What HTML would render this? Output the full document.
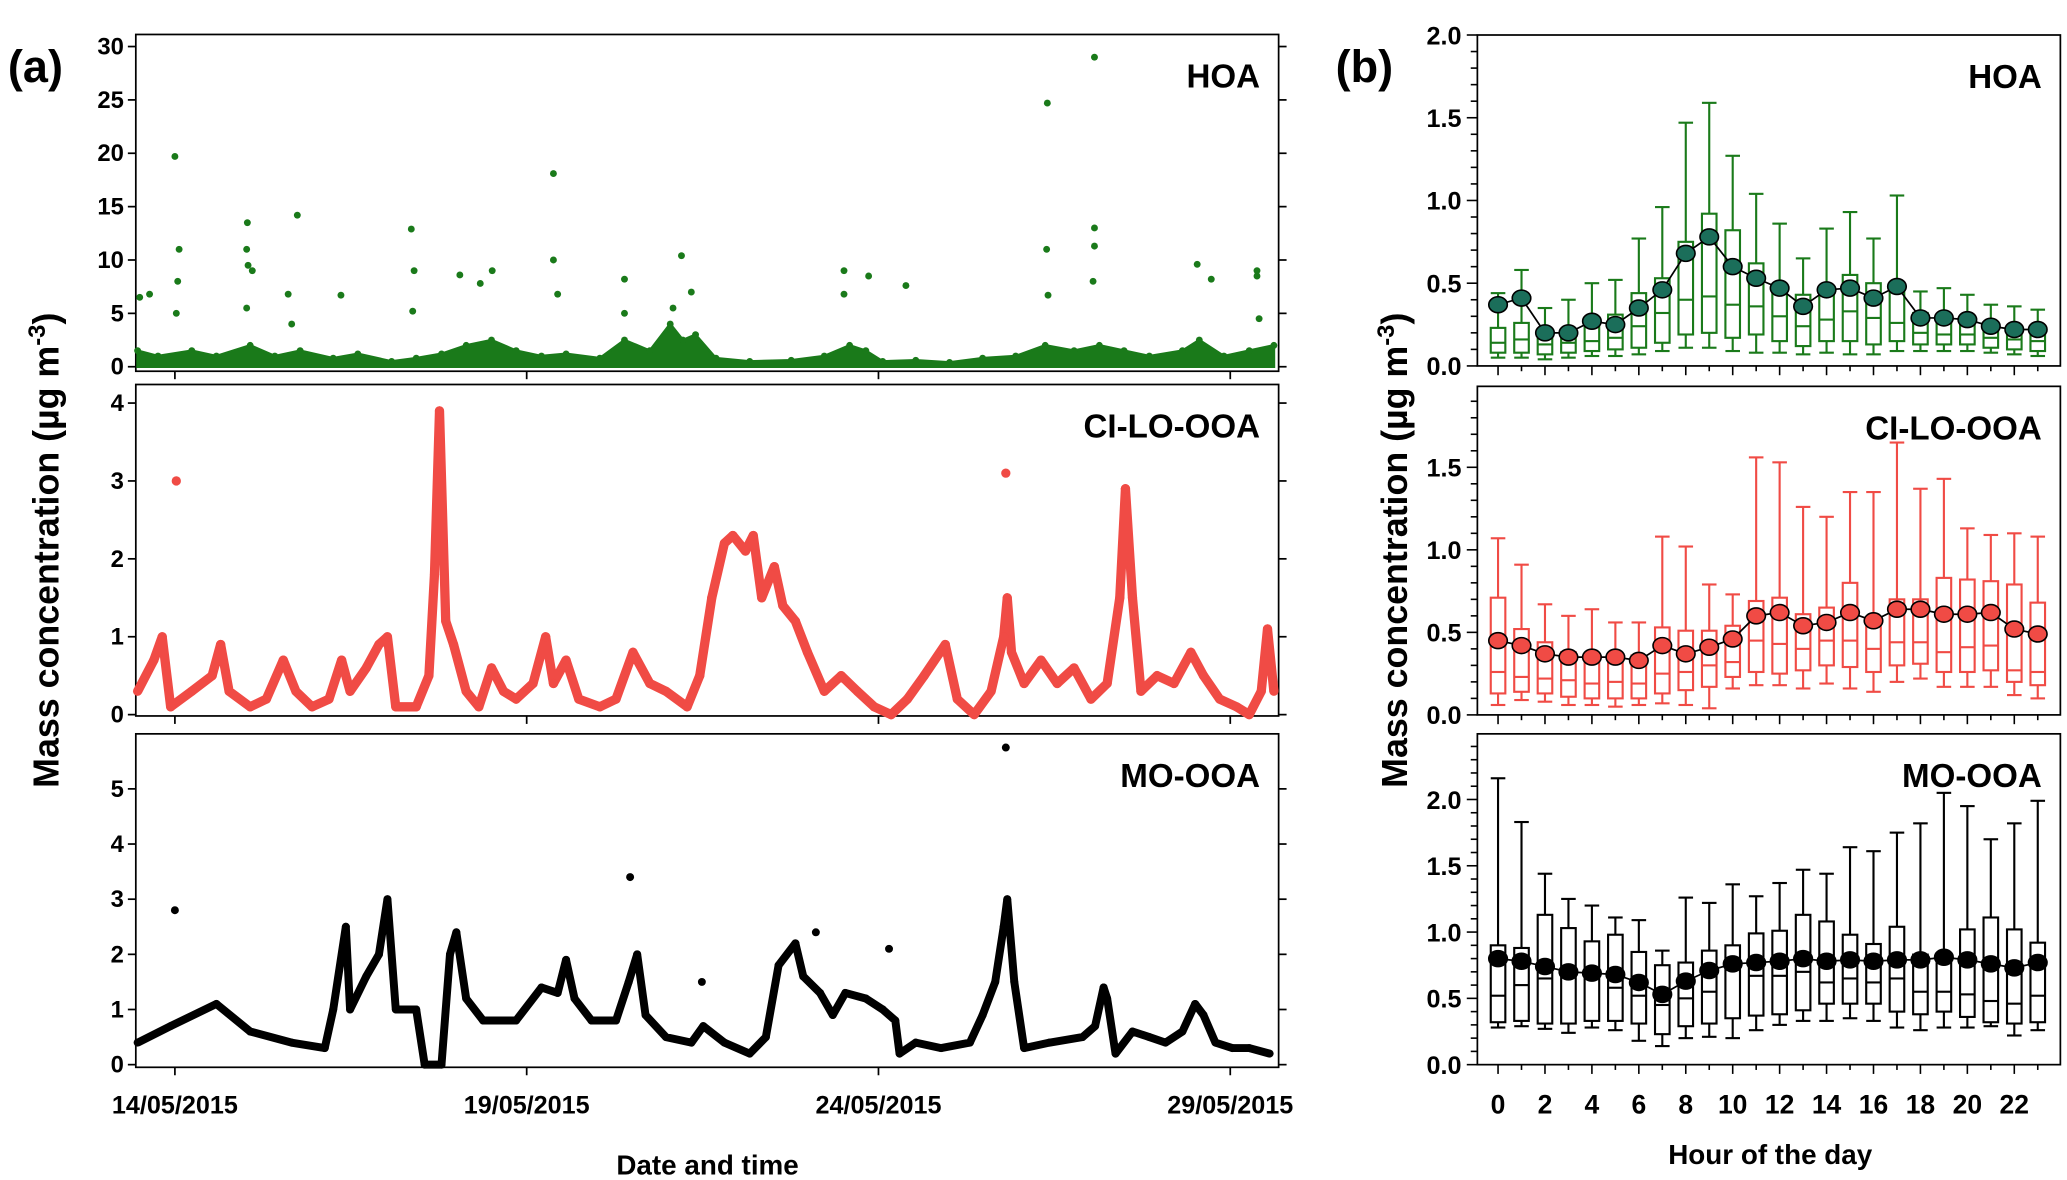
<!DOCTYPE html>
<html><head><meta charset="utf-8"><style>
html,body{margin:0;padding:0;background:#fff;}
svg{display:block;font-family:"Liberation Sans",sans-serif;font-weight:bold;}
</style></head><body>
<svg id="fig" width="2067" height="1180" viewBox="0 0 1560 890" preserveAspectRatio="none" xmlns="http://www.w3.org/2000/svg">
<rect x="0" y="0" width="1560" height="890" fill="#fff"/>
<text x="6" y="62" font-size="34">(a)</text>
<text x="1008" y="62" font-size="34">(b)</text>
<text transform="translate(44,415) rotate(-90)" text-anchor="middle" font-size="27">Mass concentration (µg m<tspan dy="-10" font-size="18">-3</tspan><tspan dy="10">)</tspan></text>
<text transform="translate(1062,415) rotate(-90)" text-anchor="middle" font-size="27">Mass concentration (µg m<tspan dy="-10" font-size="18">-3</tspan><tspan dy="10">)</tspan></text>
<text x="534" y="886" text-anchor="middle" font-size="21">Date and time</text>
<text x="1336" y="878" text-anchor="middle" font-size="21">Hour of the day</text>
<g id="ga"></g><g id="gb"></g>
</svg>
<script>
// ---------- Panel (a) time series data (days since 14/05/2015) ----------
const hoaDays=[-0.53,-0.24,0.24,0.59,1.07,1.42,1.78,2.25,2.60,3.08,3.43,3.79,4.14,4.50,4.85,5.21,5.56,6.04,6.39,6.75,7.04,7.22,7.40,7.69,8.17,8.76,9.23,9.59,9.82,10.06,10.53,11.01,11.48,11.95,12.37,12.78,13.14,13.49,13.85,14.32,14.56,14.91,15.27,15.62];
const hoaVals=[1.5,1.0,1.5,1.0,2.0,1.0,1.5,0.8,1.2,0.5,0.8,1.2,2.0,2.5,1.5,1.0,1.2,0.8,2.5,1.5,4.0,2.5,3.0,0.8,0.5,0.6,1.0,2.0,1.5,0.5,0.6,0.4,0.8,1.0,2.0,1.5,2.0,1.5,1.0,1.5,2.5,1.0,1.5,2.0];
const hoaOutDays=[-0.50,-0.36,0,0.06,0.04,0.02,1.03,1.02,1.04,1.10,1.02,1.74,1.61,1.66,2.36,3.36,3.40,3.38,4.05,4.34,4.51,5.38,5.38,5.44,6.39,6.39,7.20,7.34,7.08,9.51,9.51,9.86,10.39,12.40,12.39,12.41,13.07,13.07,13.07,13.05,14.53,14.73,15.38,15.38,15.41];
const hoaOutVals=[6.5,6.8,19.7,11,8,5,13.5,11,9.5,9,5.5,14.2,6.8,4,6.7,12.9,9,5.2,8.6,7.8,9,18.1,10,6.8,8.2,5,10.4,7,5.5,9,6.8,8.5,7.6,24.7,11,6.7,29,13,11.3,8,9.6,8.2,9,8.5,4.5];
const ciDays=[-0.53,-0.30,-0.18,-0.06,0.24,0.53,0.65,0.77,1.07,1.30,1.54,1.72,1.95,2.19,2.37,2.49,2.72,2.90,3.02,3.14,3.43,3.61,3.69,3.76,3.85,3.96,4.14,4.32,4.50,4.67,4.85,5.09,5.27,5.38,5.56,5.74,6.04,6.27,6.51,6.75,6.98,7.28,7.46,7.63,7.81,7.93,8.11,8.22,8.34,8.52,8.64,8.82,8.99,9.23,9.47,9.70,9.94,10.18,10.41,10.65,10.95,11.12,11.36,11.60,11.78,11.83,11.89,12.07,12.31,12.54,12.78,13.02,13.25,13.43,13.51,13.61,13.73,13.96,14.20,14.44,14.62,14.85,15.09,15.27,15.44,15.53,15.62];
const ciVals=[0.3,0.7,1.0,0.1,0.3,0.5,0.9,0.3,0.1,0.2,0.7,0.3,0.1,0.2,0.7,0.3,0.6,0.9,1.0,0.1,0.1,0.5,1.8,3.9,1.2,0.9,0.3,0.1,0.6,0.3,0.2,0.4,1.0,0.4,0.7,0.2,0.1,0.2,0.8,0.4,0.3,0.1,0.5,1.5,2.2,2.3,2.1,2.3,1.5,1.9,1.4,1.2,0.8,0.3,0.5,0.3,0.1,0.0,0.2,0.5,0.9,0.2,0.0,0.3,1.0,1.5,0.8,0.4,0.7,0.4,0.6,0.2,0.4,1.5,2.9,1.5,0.3,0.5,0.4,0.8,0.5,0.2,0.1,0.0,0.3,1.1,0.3];
const ciOutDays=[0.02,11.81,13.51];
const ciOutVals=[3.0,3.1,2.9];
const moDays=[-0.53,-0.06,0.59,1.07,1.66,2.13,2.25,2.43,2.49,2.72,2.90,3.02,3.14,3.43,3.55,3.79,3.91,4.00,4.14,4.38,4.85,5.21,5.44,5.56,5.68,5.92,6.27,6.45,6.57,6.69,6.98,7.34,7.51,7.81,8.17,8.40,8.58,8.82,8.93,9.17,9.35,9.53,9.82,10.06,10.24,10.30,10.53,10.89,11.30,11.48,11.66,11.78,11.83,11.93,12.07,12.43,12.90,13.08,13.20,13.25,13.37,13.61,13.85,14.08,14.32,14.50,14.62,14.79,15.03,15.27,15.56];
const moVals=[0.4,0.7,1.1,0.6,0.4,0.3,1.0,2.5,1.0,1.6,2.0,3.0,1.0,1.0,0.0,0.0,2.0,2.4,1.2,0.8,0.8,1.4,1.3,1.9,1.2,0.8,0.8,1.5,2.0,0.9,0.5,0.4,0.7,0.4,0.2,0.5,1.8,2.2,1.6,1.3,0.9,1.3,1.2,1.0,0.8,0.2,0.4,0.3,0.4,0.9,1.5,2.5,3.0,1.5,0.3,0.4,0.5,0.7,1.4,1.2,0.2,0.6,0.5,0.4,0.6,1.1,0.9,0.4,0.3,0.3,0.2];
const moOutDays=[0,6.47,11.81,10.15,7.49,9.11];
const moOutVals=[2.8,3.4,5.75,2.1,1.5,2.4];
const dateTickDays=[0,5,10,15];
const dateTickLabels=["14/05/2015","19/05/2015","24/05/2015","29/05/2015"];

// ---------- Panel (b) diurnal box plot data ----------
const hours=[0,1,2,3,4,5,6,7,8,9,10,11,12,13,14,15,16,17,18,19,20,21,22,23];
const hourTickLabels=["0","2","4","6","8","10","12","14","16","18","20","22"];
const hoaMean=[.37,.41,.20,.20,.27,.25,.35,.46,.68,.78,.60,.53,.47,.36,.46,.47,.41,.48,.29,.29,.28,.24,.22,.22];
const hoaHi=[.44,.58,.35,.40,.50,.52,.77,.96,1.47,1.59,1.27,1.04,.86,.65,.83,.93,.77,1.03,.45,.47,.43,.37,.36,.34];
const hoaQ3=[.23,.26,.20,.22,.27,.31,.44,.53,.75,.92,.82,.62,.48,.43,.47,.55,.50,.48,.32,.30,.28,.24,.22,.22];
const hoaMed=[.14,.16,.13,.14,.15,.17,.24,.32,.40,.42,.37,.36,.30,.24,.28,.33,.29,.26,.20,.19,.19,.17,.16,.15];
const hoaQ1=[.08,.08,.07,.08,.09,.10,.11,.14,.19,.20,.17,.19,.15,.12,.15,.15,.13,.15,.13,.13,.13,.11,.10,.09];
const hoaLo=[.05,.05,.04,.05,.06,.06,.07,.09,.11,.11,.09,.08,.08,.07,.08,.07,.07,.09,.09,.09,.09,.08,.07,.06];
const ciMean=[.45,.42,.37,.35,.35,.35,.33,.42,.37,.41,.46,.60,.62,.54,.56,.62,.57,.64,.64,.61,.61,.62,.52,.49];
const ciHi=[1.07,.91,.67,.60,.64,.56,.56,1.08,1.02,.79,.73,1.56,1.53,1.26,1.20,1.35,1.35,1.65,1.37,1.43,1.13,1.09,1.10,1.08];
const ciQ3=[.71,.52,.44,.38,.36,.37,.36,.53,.51,.51,.54,.69,.71,.61,.65,.80,.57,.70,.70,.83,.82,.81,.79,.68];
const ciMed=[.26,.23,.22,.21,.19,.20,.19,.25,.26,.30,.32,.45,.43,.40,.45,.45,.40,.44,.44,.38,.41,.42,.27,.26];
const ciQ1=[.13,.14,.13,.11,.10,.10,.10,.13,.15,.17,.23,.26,.25,.27,.30,.29,.26,.30,.31,.26,.26,.27,.20,.18];
const ciLo=[.06,.09,.08,.06,.06,.05,.06,.07,.06,.04,.16,.18,.18,.16,.19,.16,.14,.20,.22,.17,.17,.17,.12,.10];
const moMean=[.80,.78,.74,.70,.69,.68,.62,.53,.63,.71,.76,.77,.78,.80,.78,.79,.78,.79,.79,.81,.79,.76,.73,.77];
const moHi=[2.16,1.83,1.44,1.25,1.20,1.11,1.09,.86,1.26,1.22,1.36,1.27,1.37,1.47,1.44,1.64,1.61,1.75,1.82,2.05,1.95,1.70,1.82,1.99];
const moQ3=[.90,.88,1.13,1.03,.93,.98,.85,.75,.77,.86,.90,.99,1.01,1.13,1.08,.98,.91,1.04,.83,.83,1.02,1.11,1.02,.92];
const moMed=[.52,.60,.65,.66,.70,.58,.52,.45,.50,.55,.74,.67,.67,.70,.62,.65,.62,.65,.55,.55,.53,.48,.46,.52];
const moQ1=[.32,.33,.31,.31,.33,.33,.31,.23,.29,.31,.35,.37,.38,.41,.46,.46,.46,.40,.38,.40,.36,.32,.31,.32];
const moLo=[.28,.29,.27,.24,.28,.26,.18,.14,.20,.21,.20,.26,.30,.33,.33,.35,.33,.28,.26,.28,.28,.29,.22,.26];

const NS="http://www.w3.org/2000/svg";
function mk(parent,tag,attrs){const e=document.createElementNS(NS,tag);for(const k in attrs)e.setAttribute(k,attrs[k]);parent.appendChild(e);return e;}

// ----- panel a -----
const ga=document.getElementById('ga');
const AX0=102.5,AX1=965;
const xA=d=>132+d*53.1;
const panelsA=[
 {name:'hoa',top:26,bot:280,y0:276.6,k:8.05,ticks:[0,5,10,15,20,25,30],color:'#1a7a1a',label:'HOA',days:hoaDays,vals:hoaVals,od:hoaOutDays,ov:hoaOutVals,area:true,r:2.6,sw:2},
 {name:'ci-lo-ooa',top:290,bot:540,y0:539,k:58.75,ticks:[0,1,2,3,4],color:'#f04b45',label:'CI-LO-OOA',days:ciDays,vals:ciVals,od:ciOutDays,ov:ciOutVals,area:false,r:3.5,sw:7},
 {name:'mo-ooa',top:553.5,bot:805,y0:803,k:41.6,ticks:[0,1,2,3,4,5],color:'#000',label:'MO-OOA',days:moDays,vals:moVals,od:moOutDays,ov:moOutVals,area:false,r:3,sw:6}
];
panelsA.forEach(p=>{
  const g=mk(ga,'g',{});
  
  
  const yv=v=>p.y0-v*p.k;
  const fr=mk(g,'rect',{x:AX0,y:p.top,width:AX1-AX0,height:p.bot-p.top,fill:'none',stroke:'#000','stroke-width':1.3});
  
  
  p.ticks.forEach(t=>{
    mk(g,'line',{x1:AX0-6,x2:AX0,y1:yv(t),y2:yv(t),stroke:'#000','stroke-width':1.3});
    mk(g,'line',{x1:AX1,x2:AX1+6,y1:yv(t),y2:yv(t),stroke:'#000','stroke-width':1.3});
    const tl=mk(g,'text',{x:AX0-9,y:yv(t)+6,'text-anchor':'end','font-size':18});
    tl.textContent=t;
    
    
  });
  dateTickDays.forEach(d=>{mk(g,'line',{x1:xA(d),x2:xA(d),y1:p.bot,y2:p.bot+6,stroke:'#000','stroke-width':1.3});});
  let pts=p.days.map((d,i)=>xA(d).toFixed(1)+','+yv(p.vals[i]).toFixed(1));
  if(p.area){
    const poly=mk(g,'polygon',{points:xA(p.days[0])+','+yv(0)+' '+pts.join(' ')+' '+xA(p.days[p.days.length-1])+','+yv(0),fill:p.color,stroke:p.color,'stroke-width':p.sw});
    
    
  }else{
    const pl=mk(g,'polyline',{points:pts.join(' '),fill:'none',stroke:p.color,'stroke-width':p.sw,'stroke-linejoin':'round'});
    
    
  }
  p.days.forEach((d,i)=>{const c=mk(g,'circle',{cx:xA(d),cy:yv(p.vals[i]),r:p.r,fill:p.color});
    
    });
  p.od.forEach((d,i)=>{const c=mk(g,'circle',{cx:xA(d),cy:yv(p.ov[i]),r:p.r,fill:p.color});
    
    });
  const lb=mk(g,'text',{x:AX1-14,y:p.top+40,'text-anchor':'end','font-size':25});
  lb.textContent=p.label;
  
  
});
dateTickDays.forEach((d,i)=>{const t=mk(ga,'text',{x:xA(d),y:840,'text-anchor':'middle','font-size':19});
  t.textContent=dateTickLabels[i];
  
  });

// ----- panel b -----
const gb=document.getElementById('gb');
const BX0=1115,BX1=1555;
const xB=h=>1130.6+h*17.71;
const panelsB=[
 {name:'hoa',top:26.4,bot:276,y0:276,k:124.8,ticks:[0,0.5,1,1.5,2],max:2,color:'#1a7a1a',fillDot:'#1b6e5a',label:'HOA',mean:hoaMean,hi:hoaHi,q3:hoaQ3,med:hoaMed,q1:hoaQ1,lo:hoaLo},
 {name:'ci-lo-ooa',top:291.4,bot:539.2,y0:539.2,k:124.5,ticks:[0,0.5,1,1.5],max:1.99,color:'#f04b45',fillDot:'#f04b45',label:'CI-LO-OOA',mean:ciMean,hi:ciHi,q3:ciQ3,med:ciMed,q1:ciQ1,lo:ciLo},
 {name:'mo-ooa',top:553.5,bot:803,y0:803,k:100,ticks:[0,0.5,1,1.5,2],max:2.48,color:'#000',fillDot:'#000',label:'MO-OOA',mean:moMean,hi:moHi,q3:moQ3,med:moMed,q1:moQ1,lo:moLo}
];
panelsB.forEach(p=>{
  const g=mk(gb,'g',{});
  
  
  const yv=v=>p.y0-v*p.k;
  const fr=mk(g,'rect',{x:BX0,y:p.top,width:BX1-BX0,height:p.bot-p.top,fill:'none',stroke:'#000','stroke-width':1.3});
  
  
  for(let v=0;v<=p.max+1e-6;v+=0.1){const major=Math.abs(v*2-Math.round(v*2))<1e-6;
    mk(g,'line',{x1:BX0-(major?8:5),x2:BX0,y1:yv(v),y2:yv(v),stroke:'#000','stroke-width':1.2});}
  p.ticks.forEach(t=>{const tl=mk(g,'text',{x:BX0-12,y:yv(t)+7,'text-anchor':'end','font-size':19});
    tl.textContent=t.toFixed(1);
    
    });
  hours.forEach(h=>{mk(g,'line',{x1:xB(h),x2:xB(h),y1:p.bot,y2:p.bot+(h%2?4:7),stroke:'#000','stroke-width':1.2});});
  const w=5.5;
  hours.forEach((h,i)=>{
    const bx=mk(g,'g',{stroke:p.color,'stroke-width':1.6,fill:'none'});
    
    
    const x=xB(h);
    mk(bx,'line',{x1:x,x2:x,y1:yv(p.hi[i]),y2:yv(p.q3[i])});
    mk(bx,'line',{x1:x,x2:x,y1:yv(p.q1[i]),y2:yv(p.lo[i])});
    mk(bx,'line',{x1:x-w,x2:x+w,y1:yv(p.hi[i]),y2:yv(p.hi[i])});
    mk(bx,'line',{x1:x-w,x2:x+w,y1:yv(p.lo[i]),y2:yv(p.lo[i])});
    mk(bx,'rect',{x:x-w,y:yv(p.q3[i]),width:2*w,height:yv(p.q1[i])-yv(p.q3[i])});
    mk(bx,'line',{x1:x-w,x2:x+w,y1:yv(p.med[i]),y2:yv(p.med[i])});
  });
  const mp=mk(g,'polyline',{points:hours.map((h,i)=>xB(h)+','+yv(p.mean[i])).join(' '),fill:'none',stroke:'#000','stroke-width':1.3});
  
  
  hours.forEach((h,i)=>{const c=mk(g,'ellipse',{cx:xB(h),cy:yv(p.mean[i]),rx:7,ry:6,fill:p.fillDot,stroke:'#000','stroke-width':1.2});
    
    });
  const lb=mk(g,'text',{x:BX1-14,y:p.top+40,'text-anchor':'end','font-size':25});
  lb.textContent=p.label;
  
  
});
hourTickLabels.forEach(s=>{const t=mk(gb,'text',{x:xB(+s),y:840,'text-anchor':'middle','font-size':20});
  t.textContent=s;
  
  });
</script>
</body></html>
